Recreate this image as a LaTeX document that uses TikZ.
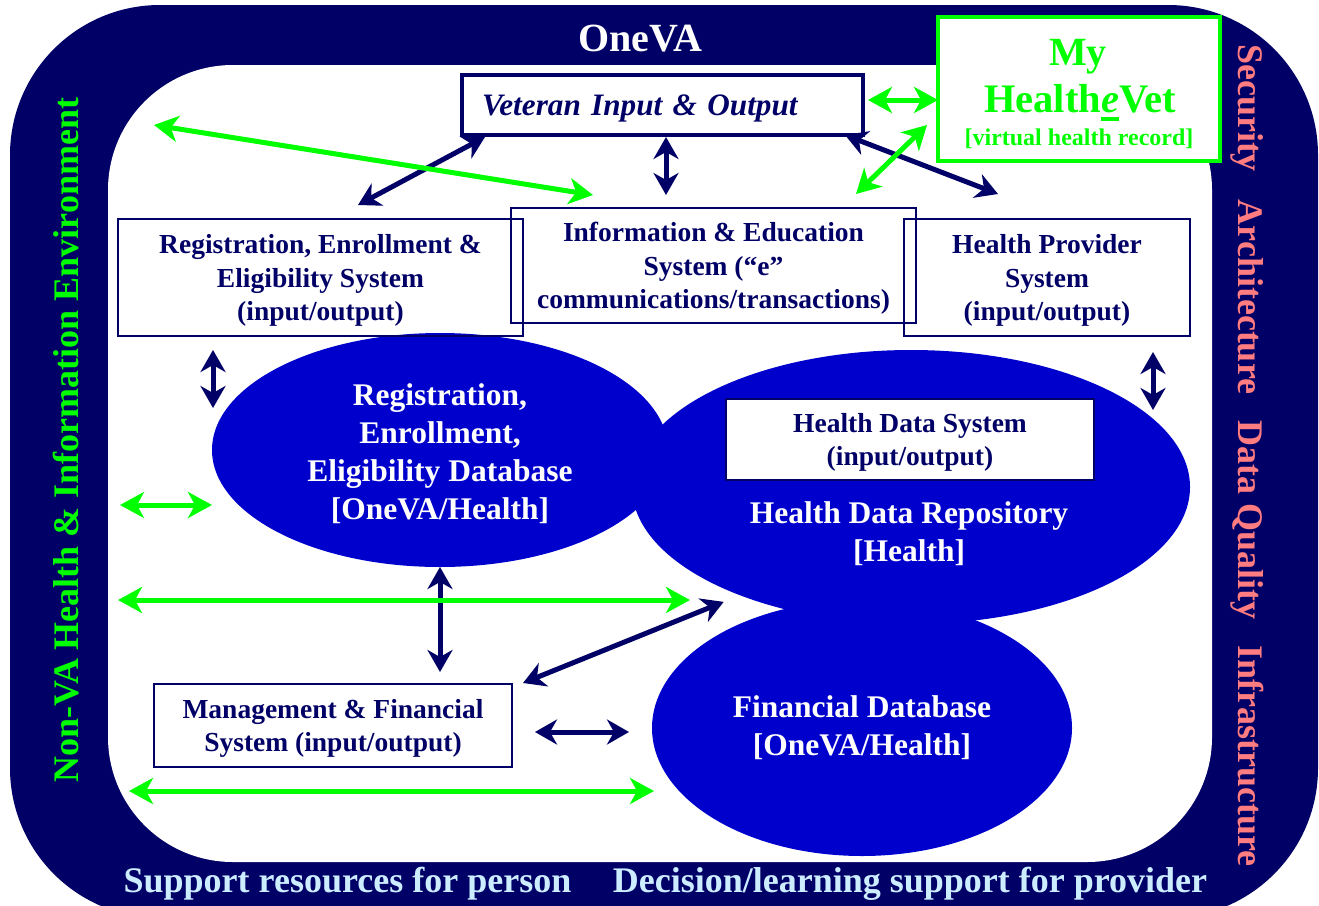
\documentclass[tikz,border=0pt]{standalone}
\usepackage{fontspec}
\setmainfont{Liberation Serif}
\usetikzlibrary{arrows.meta,shapes.geometric}
\definecolor{VANavy}{HTML}{000066}
\definecolor{VABlue}{HTML}{0000CC}
\definecolor{VAGreen}{HTML}{00FF00}
\definecolor{VASalmon}{HTML}{FF7C80}
\definecolor{VASky}{HTML}{CCECFF}
% italic e with a heavy bar under it
\newcommand{\eunderbar}{\setbox0=\hbox{\itshape e}\rlap{\rule[-9pt]{\wd0}{4pt}}\box0}
\tikzset{
  every node/.style={font=\bfseries, text=VANavy, outer sep=0pt},
  system/.style={draw=VANavy, line width=1.5pt, inner sep=0pt, text depth=-2pt, align=center, font=\fontsize{27.5}{33.5}\selectfont\bfseries},
  store/.style={ellipse, fill=VABlue, inner sep=0pt, align=center, text=white, font=\fontsize{31.5}{38}\selectfont\bfseries},
  storetext/.style={align=center, text=white, font=\fontsize{31.5}{38}\selectfont\bfseries},
  band/.style={anchor=base, font=\fontsize{36}{40}\selectfont\bfseries},
  link/.style={{Stealth[length=22pt,width=25pt,inset=7pt]}-{Stealth[length=22pt,width=25pt,inset=7pt]}, draw=VANavy, line width=5pt},
  outside/.style={{Stealth[length=24pt,width=26pt,inset=7pt]}-{Stealth[length=24pt,width=26pt,inset=7pt]}, draw=VAGreen, line width=5pt},
}

\begin{document}
\begin{tikzpicture}[x=1pt,y=-1pt]
  \useasboundingbox (0,0) rectangle (1319,905);
  \clip (0,0) rectangle (1319,905);

  % Frame: dark band round the white working area
  \fill[VANavy, rounded corners=150pt] (10,5) rectangle (1318,918);
  \fill[white, rounded corners=125pt] (108,65) rectangle (1212,862);

  % Band labels
  \node[text=white, anchor=base, font=\fontsize{40}{44}\selectfont\bfseries] (oneva) at (640,51) {OneVA};
  \node[band, text=VAGreen, rotate=90] (nonva) at (78,440) {Non-VA Health \& Information Environment};
  \node[band, text=VASalmon, rotate=-90] (security) at (1238,108) {Security};
  \node[band, text=VASalmon, rotate=-90] (architecture) at (1238,297) {Architecture};
  \node[band, text=VASalmon, rotate=-90] (quality) at (1238,520) {Data Quality};
  \node[band, text=VASalmon, rotate=-90] (infra) at (1238,756) {Infrastructure};
  \node[band, text=VASky] (person) at (347.5,892) {Support resources for person};
  \node[band, text=VASky] (provider) at (910,892) {Decision/learning support for provider};

  % Data stores
  \node[store, minimum width=456pt, minimum height=234pt] (regdb) at (440,450) {};
  \node[store, minimum width=558pt, minimum height=274pt] (hdr) at (911,487) {};
  \node[store, minimum width=420pt, minimum height=256pt] (fin) at (862,728) {Financial Database\\ {[OneVA/Health]}};
  \node[storetext] (regdblabel) at (440,453.5) {Registration,\\ Enrollment,\\ Eligibility Database\\ {[OneVA/Health]}};
  \node[storetext] (hdrlabel) at (909,534) {Health Data Repository\\ {[Health]}};

  % Systems
  \node[system, minimum width=405pt, minimum height=117pt] (reg) at (320.5,277.5) {Registration, Enrollment \&\\ Eligibility System\\ (input/output)};
  \node[system, minimum width=405pt, minimum height=115pt] (info) at (713.5,265.5) {Information \& Education\\ System (``e''\\ communications/transactions)};
  \node[system, minimum width=286pt, minimum height=117pt] (prov) at (1047,277.5) {Health Provider\\ System\\ (input/output)};
  \node[system, fill=white, minimum width=368pt, minimum height=81pt] (hds) at (910,439.5) {Health Data System\\ (input/output)};
  \node[system, minimum width=358pt, minimum height=83pt] (mgmt) at (333,725.5) {Management \& Financial\\ System (input/output)};

  % Veteran entry point
  \node[draw=VANavy, line width=4pt, fill=white, minimum width=401pt, minimum height=60pt, text width=361pt, inner xsep=20pt, text depth=0pt, align=left, font=\fontsize{31.2}{36}\selectfont\bfseries\itshape] (vet) at (662.5,105) {Veteran Input \& Output};

  % My HealtheVet record
  \node[draw=VAGreen, line width=4pt, fill=white, minimum width=282pt, minimum height=144pt] (mhv) at (1079,89) {};
  \node[text=VAGreen, anchor=base, font=\fontsize{40}{44}\selectfont\bfseries] (mhvmy) at (1078,65) {My};
  \node[text=VAGreen, anchor=base, font=\fontsize{40.5}{44}\selectfont\bfseries] (mhvname) at (1080,112) {Health\eunderbar Vet};
  \node[text=VAGreen, anchor=base, font=\fontsize{24}{26}\selectfont\bfseries] (mhvnote) at (1079,145) {[virtual health record]};

  % Loose ends in the outer environment
  \coordinate (env-a) at (154,125);
  \coordinate (env-b) at (120,505);
  \coordinate (env-c) at (118,600);
  \coordinate (env-d) at (129,791);

  % Internal exchanges
  \draw[link] ([shift={(37.5,-14)}]reg.north) -- ([shift={(23,2)}]vet.south west);
  \draw[link] ([shift={(3.5,2)}]vet.south) -- ([shift={(-47.5,-13)}]info.north);
  \draw[link] ([shift={(-18,0)}]vet.south east) -- ([shift={(-49,-25)}]prov.north);
  \draw[link] ([shift={(-107.5,14)}]reg.south) -- ([shift={(1,-42)}]regdb.west);
  \draw[link] ([shift={(-37,16)}]prov.south east) -- ([shift={(-37,-77)}]hdr.east);
  \draw[link] (regdb.south) -- ([shift={(107,-12)}]mgmt.north);
  \draw[link] ([shift={(11,-1)}]mgmt.north east) -- ([shift={(10,18)}]hdr.south west);
  \draw[link] ([shift={(23,6.5)}]mgmt.east) -- ([shift={(-23,4)}]fin.west);

  % Exchanges with the outside
  \draw[outside] ([shift={(5,-5)}]vet.east) -- ([shift={(0,11)}]mhv.west);
  \draw[outside] ([shift={(-11,36)}]mhv.west) -- ([shift={(-60,-14)}]info.north east);
  \draw[outside] (env-a) -- ([shift={(82,-13)}]info.north west);
  \draw[outside] (env-b) -- ([shift={(0,55)}]regdb.west);
  \draw[outside] (env-c) -- ([shift={(58,113)}]hdr.west);
  \draw[outside] (env-d) -- ([shift={(2,63)}]fin.west);
\end{tikzpicture}
\end{document}
